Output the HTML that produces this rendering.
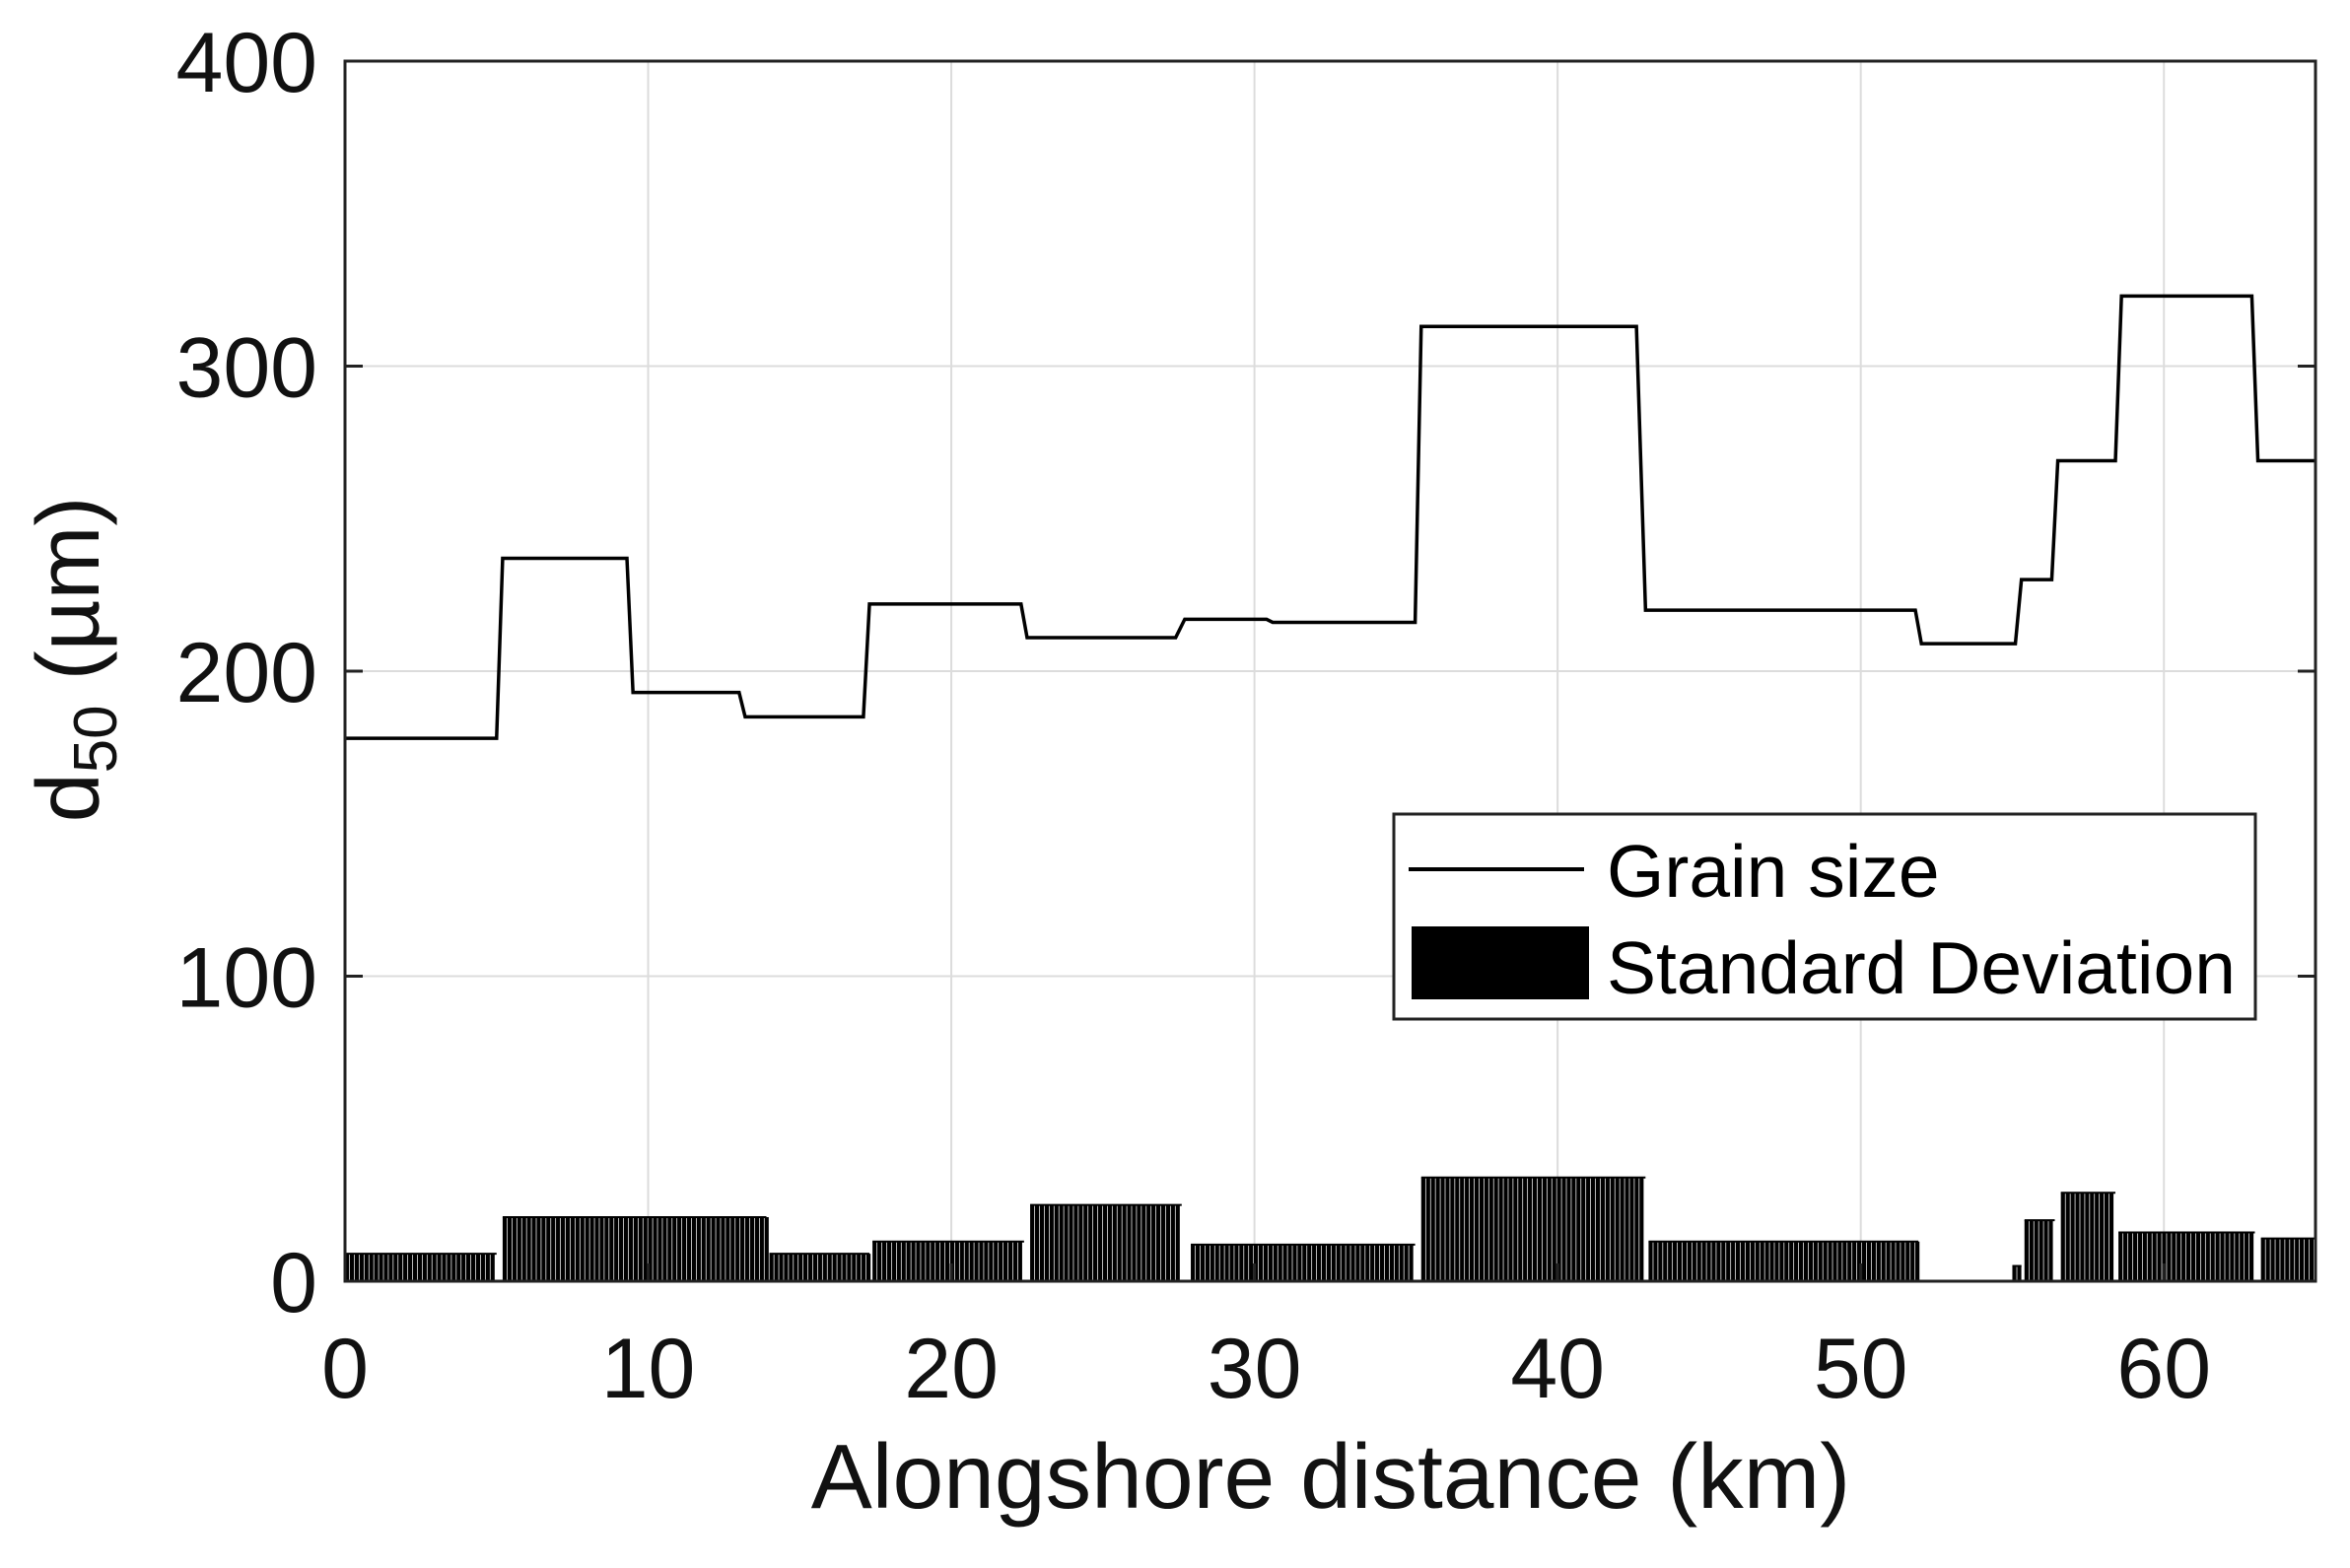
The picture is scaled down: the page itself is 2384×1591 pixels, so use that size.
<!DOCTYPE html>
<html><head><meta charset="utf-8"><style>
html,body{margin:0;padding:0;background:#fff;}
svg{display:block;font-family:"Liberation Sans",Arial,sans-serif;}
</style></head><body>
<svg id="chart" width="2384" height="1591" viewBox="0 0 2384 1591" xmlns="http://www.w3.org/2000/svg">
<rect width="2384" height="1591" fill="#fff"/>
<g id="grid"></g>
<g id="bars"></g>
<path id="line" fill="none" stroke="#000" stroke-width="3.5"/>
<rect x="350" y="62" width="1999" height="1238" fill="none" stroke="#222" stroke-width="3"/>
<g id="ticks"></g>
<text x="1350" y="1530" font-size="93" text-anchor="middle" fill="#111">Alongshore distance (km)</text>
<text transform="translate(100,669) rotate(-90)" font-size="90" text-anchor="middle" fill="#111">d<tspan font-size="62" dy="18">50</tspan><tspan dy="-18"> (µm)</tspan></text>
<g>
<rect x="1414" y="826" width="874" height="208" fill="#fff" stroke="#222" stroke-width="3"/>
<line x1="1429" y1="882" x2="1607" y2="882" stroke="#000" stroke-width="4"/>
<text x="1630" y="910" font-size="75" fill="#000">Grain size</text>
<rect x="1432" y="940" width="180" height="74" fill="#000"/>
<text x="1630" y="1008" font-size="75" fill="#000">Standard Deviation</text>
</g>
</svg>
<script>
const xTicks=[0,10,20,30,40,50,60];
const yTicks=[0,100,200,300,400];
// grain size steps: start km, end km, d50
const gsStart=[0,5.2,9.5,13.2,17.3,22.5,27.7,30.6,35.5,42.9,52.0,55.3,56.5,58.6,63.1];
const gsEnd  =[5.0,9.3,13.0,17.1,22.3,27.4,30.4,35.3,42.6,51.8,55.1,56.3,58.4,62.9,65];
const gsVal  =[178,237,193,185,222,211,217,216,313,220,209,230,269,323,269];
// standard deviation segments: start km, end km, value
const sdStart=[0,5.2,14.0,17.4,22.6,27.9,35.5,43.0,55.0,55.4,56.6,58.5,63.2];
const sdEnd  =[5.0,13.9,17.3,22.4,27.6,35.3,42.9,51.9,55.3,56.4,58.4,63.0,65];
const sdVal  =[9,21,9,13,25,12,34,13,5,20,29,16,14];
const X0=350,X1=2349,Y0=1300,Y1=62;
const xs=v=>X0+(v-0)/65*(X1-X0);
const ys=v=>Y0-(v/400)*(Y0-Y1);
const NS="http://www.w3.org/2000/svg";
const grid=document.getElementById('grid'),ticks=document.getElementById('ticks'),bars=document.getElementById('bars');
function mk(t,a,p){const e=document.createElementNS(NS,t);for(const k in a)e.setAttribute(k,a[k]);p.appendChild(e);return e;}
xTicks.forEach(v=>{
 const g=mk('line',{x1:xs(v),x2:xs(v),y1:Y1,y2:Y0,stroke:'#dcdcdc','stroke-width':2},grid);
 
 
 mk('line',{x1:xs(v),x2:xs(v),y1:Y0,y2:Y0-18,stroke:'#222','stroke-width':3},ticks);
 const t=mk('text',{x:xs(v),y:1418,'font-size':86,'text-anchor':'middle',fill:'#111'},ticks);
 t.textContent=v;
 
 
});
yTicks.forEach(v=>{
 const g=mk('line',{x1:X0,x2:X1,y1:ys(v),y2:ys(v),stroke:'#dcdcdc','stroke-width':2},grid);
 
 
 mk('line',{x1:X0,x2:X0+18,y1:ys(v),y2:ys(v),stroke:'#222','stroke-width':3},ticks);
 mk('line',{x1:X1,x2:X1-18,y1:ys(v),y2:ys(v),stroke:'#222','stroke-width':3},ticks);
 const t=mk('text',{x:322,y:ys(v)+31,'font-size':86,'text-anchor':'end',fill:'#111'},ticks);
 t.textContent=v;
 
 
});
let d='';
gsVal.forEach((v,i)=>{d+=(i?'L':'M')+xs(gsStart[i])+','+ys(v)+'L'+xs(gsEnd[i])+','+ys(v);});
document.getElementById('line').setAttribute('d',d);
sdVal.forEach((v,i)=>{
 for(let k=sdStart[i];k<sdEnd[i]-0.05;k+=0.16){
  const b=mk('rect',{x:xs(k),y:ys(v),width:4.2,height:Y0-ys(v),fill:'#000'},bars);
  
  
 }
 const top=mk('line',{x1:xs(sdStart[i]),x2:xs(sdEnd[i]),y1:ys(v),y2:ys(v),stroke:'#000','stroke-width':2},bars);
 
 
});
</script>
</body></html>
